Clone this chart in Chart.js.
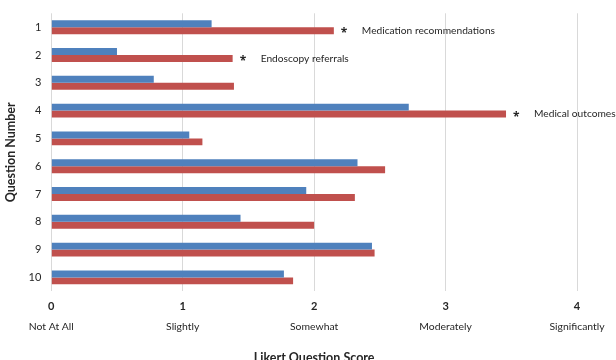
<!DOCTYPE html>
<html>
<head>
<meta charset="utf-8">
<script src="https://cdn.jsdelivr.net/npm/chart.js@4/dist/chart.umd.min.js"></script>
<style>
  html, body { margin: 0; padding: 0; background: #ffffff; overflow: hidden; }
  #wrap { position: relative; width: 616px; height: 369px; }
</style>
</head>
<body>
<div id="wrap"><canvas id="c"></canvas></div>
<script>
// ---- Data ----
const questions = ["1", "2", "3", "4", "5", "6", "7", "8", "9", "10"];
const blueScores = [1.22, 0.50, 0.78, 2.72, 1.05, 2.33, 1.94, 1.44, 2.44, 1.77];
const redScores  = [2.15, 1.38, 1.39, 3.46, 1.15, 2.54, 2.31, 2.00, 2.46, 1.84];
const scoreTicks = ["0", "1", "2", "3", "4"];
const likertLabels = ["Not At All", "Slightly", "Somewhat", "Moderately", "Significantly"];
const notes = ["Medication recommendations", "Endoscopy referrals", "", "Medical outcomes", "", "", "", "", "", ""];

const FONT = "Lato, sans-serif";
const TEXT = "#262626";

const notePlugin = {
  id: 'notes',
  afterDatasetsDraw(chart) {
    const meta = chart.getDatasetMeta(1);
    const ctx = chart.ctx;
    ctx.save();
    ctx.fillStyle = TEXT;
    ctx.textBaseline = 'middle';
    ctx.textAlign = 'left';
    notes.forEach((t, i) => {
      if (!t) return;
      const bar = meta.data[i];
      ctx.font = "bold 12px 'Open Sans', sans-serif";
      ctx.fillText("*", bar.x + 7, bar.y + 3);
      ctx.font = "10.2px " + FONT;
      ctx.fillText(t, bar.x + 28, bar.y);
    });
    ctx.restore();
  }
};

new Chart(document.getElementById('c'), {
  type: 'bar',
  data: {
    labels: questions,
    datasets: [
      { label: 'A', data: blueScores, backgroundColor: '#4f81bd', barPercentage: 1, categoryPercentage: 0.5 },
      { label: 'B', data: redScores, backgroundColor: '#c0504d', barPercentage: 1, categoryPercentage: 0.5 }
    ]
  },
  options: {
    indexAxis: 'y',
    responsive: true,
    maintainAspectRatio: false,
    animation: false,
    layout: { padding: { top: 7, right: 39, left: 0.5, bottom: 0 } },
    plugins: { legend: { display: false }, tooltip: { enabled: false } },
    scales: {
      y: {
        grid: { display: false, drawTicks: false },
        border: { display: false },
        ticks: { color: TEXT, font: { family: FONT, size: 11, lineHeight: 0.6 }, padding: 10 },
        title: { display: true, text: 'Question Number', color: TEXT, font: { family: FONT, size: 12.5, weight: 'bold' }, padding: { top: 3, bottom: 0 } }
      },
      x: {
        position: 'bottom',
        weight: 0,
        min: 0, max: 4,
        grid: { color: '#d9d9d9', drawTicks: false },
        border: { display: false },
        ticks: { stepSize: 1, color: TEXT, font: { family: FONT, size: 11, weight: 'bold' }, padding: 9,
                 callback: (v) => scoreTicks[v] }
      },
      x2: {
        type: 'linear',
        position: 'bottom',
        weight: 1,
        min: 0, max: 4,
        grid: { display: false, drawTicks: false },
        border: { display: false },
        ticks: { stepSize: 1, color: TEXT, font: { family: FONT, size: 10.4 }, padding: -2,
                 callback: (v) => likertLabels[v] },
        title: { display: true, text: 'Likert Question Score', color: TEXT, font: { family: FONT, size: 12.5, weight: 'bold' }, padding: { top: 19, bottom: 4 } }
      }
    }
  },
  plugins: [notePlugin]
});
</script>
</body>
</html>
